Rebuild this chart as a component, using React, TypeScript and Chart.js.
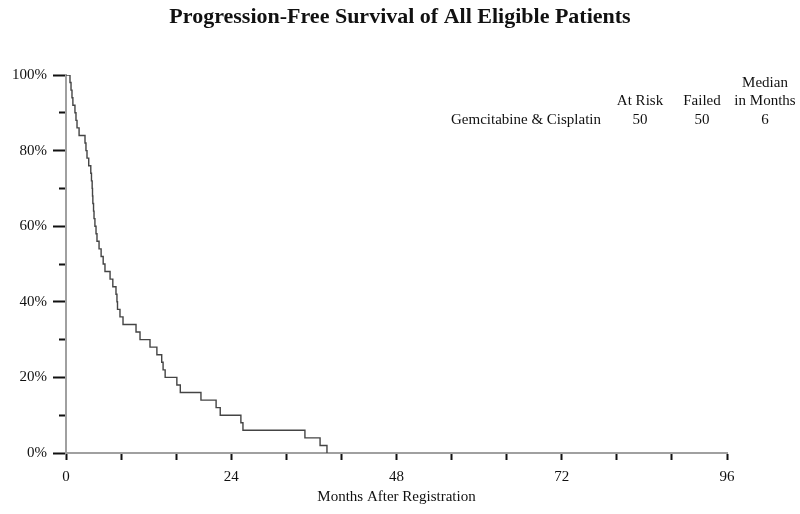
import React, { useEffect, useRef } from "react";
import { Chart, registerables } from "chart.js";

Chart.register(...registerables);

// Event times (months) and survival (%) after each event; first point is the start.
const months: number[] = [
  0, 0.58, 0.73, 0.87, 1.0, 1.3, 1.45, 1.6, 1.9, 2.76, 2.9,
  3.05, 3.3, 3.6, 3.7, 3.8, 3.85, 3.9, 4.0, 4.07, 4.2,
  4.36, 4.5, 4.8, 5.1, 5.4, 5.66, 6.4, 6.8, 7.26, 7.4,
  7.48, 7.84, 8.28, 10.17, 10.75, 12.2, 13.2, 13.9, 14.1, 14.4,
  16.1, 16.6, 19.6, 21.8, 22.4, 25.4, 25.7, 34.7, 36.9, 37.9,
];
const survival: number[] = [
  100, 98, 96, 94, 92, 90, 88, 86, 84, 82, 80,
  78, 76, 74, 72, 70, 68, 66, 64, 62, 60,
  58, 56, 54, 52, 50, 48, 46, 44, 42, 40,
  38, 36, 34, 32, 30, 28, 26, 24, 22, 20,
  18, 16, 14, 12, 10, 8, 6, 4, 2, 0,
];

const xLabeled: number[] = [0, 24, 48, 72, 96];
const yLabeled: number[] = [0, 20, 40, 60, 80, 100];

const titleText = "Progression-Free Survival of All Eligible Patients";
const xAxisTitle = "Months After Registration";
const groupName = "Gemcitabine & Cisplatin";
const tableHeaders: string[][] = [["At Risk"], ["Failed"], ["Median", "in Months"]];
const tableValues: string[] = ["50", "50", "6"];

const SERIF = "'Liberation Serif', 'DejaVu Serif', serif";

const textPlugin = {
  id: "textPlugin",
  afterDraw(chart: any) {
    const ctx = chart.ctx as CanvasRenderingContext2D;
    ctx.save();
    ctx.fillStyle = "#111";
    ctx.textBaseline = "middle";
    ctx.textAlign = "center";
    ctx.font = `bold 22px ${SERIF}`;
    ctx.fillText(titleText, 400, 17);

    ctx.font = `15px ${SERIF}`;
    const cols = [640, 702, 765];
    tableHeaders.forEach((lines, i) => {
      const n = lines.length;
      lines.forEach((ln, j) => {
        ctx.fillText(ln, cols[i], 101 - (n - 1 - j) * 18);
      });
    });
    ctx.textAlign = "left";
    ctx.fillText(groupName, 451, 120);
    ctx.textAlign = "center";
    tableValues.forEach((v, i) => ctx.fillText(v, cols[i], 120));
    ctx.restore();
  },
};

export default function App() {
  const ref = useRef<HTMLCanvasElement | null>(null);

  useEffect(() => {
    if (!ref.current) return;
    const chart = new Chart(ref.current, {
      type: "line",
      data: {
        datasets: [
          {
            data: months.map((m, i) => ({ x: m, y: survival[i] })),
            stepped: "before",
            borderColor: "#444444",
            borderWidth: 1.4,
            pointRadius: 0,
            fill: false,
          },
        ],
      },
      options: {
        animation: false,
        responsive: false,
        maintainAspectRatio: false,
        layout: { padding: { top: 75, right: 73, left: 0, bottom: 0 } },
        plugins: {
          legend: { display: false },
          title: { display: false },
          tooltip: { enabled: false },
        },
        scales: {
          x: {
            type: "linear",
            min: 0,
            max: 96,
            afterFit: (s: any) => {
              s.height = 61;
            },
            ticks: {
              stepSize: 8,
              autoSkip: false,
              maxRotation: 0,
              padding: 8,
              color: "#111",
              font: { family: SERIF, size: 15 },
              callback: (v: any) => (xLabeled.includes(Number(v)) ? String(v) : ""),
            },
            grid: {
              drawOnChartArea: false,
              drawTicks: true,
              tickLength: 7,
              tickColor: "#111",
              tickWidth: 2,
            },
            border: { color: "#a0a0a0", width: 2 },
            title: {
              display: true,
              text: xAxisTitle,
              color: "#111",
              font: { family: SERIF, size: 15 },
              padding: { top: 0, bottom: 8 },
            },
          },
          y: {
            type: "linear",
            min: 0,
            max: 100,
            afterFit: (s: any) => {
              s.width = 66;
            },
            ticks: {
              stepSize: 10,
              autoSkip: false,
              padding: 6,
              color: "#111",
              font: { family: SERIF, size: 15 },
              callback: (v: any) => (yLabeled.includes(Number(v)) ? v + "%" : ""),
            },
            grid: {
              drawOnChartArea: false,
              drawTicks: true,
              tickLength: 13,
              tickColor: "#111",
              tickWidth: 2,
              tickBorderDash: (c: any) =>
                c.tick && yLabeled.includes(Number(c.tick.value)) ? [] : [0, 6, 20],
            } as any,
            border: { color: "#a0a0a0", width: 2 },
          },
        },
      },
      plugins: [textPlugin],
    } as any);
    return () => chart.destroy();
  }, []);

  return (
    <div style={{ position: "absolute", left: 0, top: 0, width: 800, height: 514, background: "#fff" }}>
      <canvas ref={ref} width={800} height={514} />
    </div>
  );
}
